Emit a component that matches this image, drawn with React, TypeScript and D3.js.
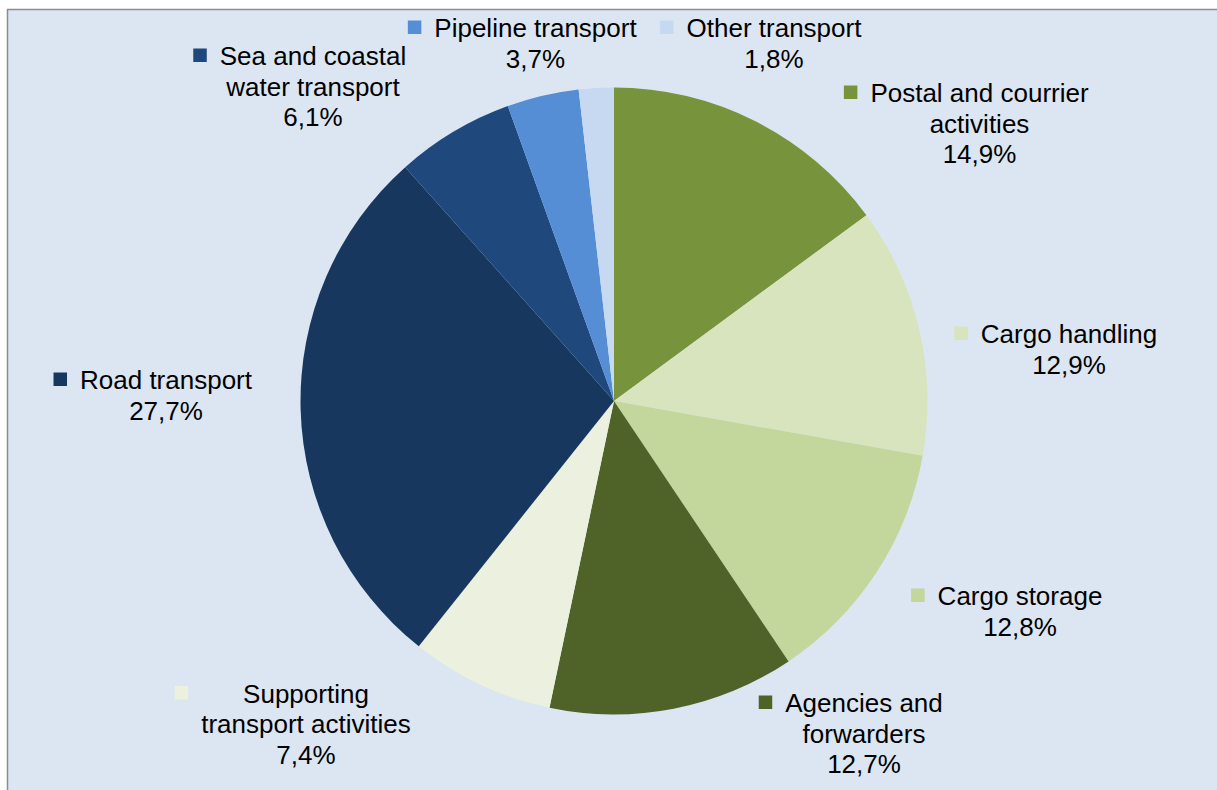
import React, { useEffect, useRef } from "react";
import * as d3 from "d3";

// ---- data ----
const categories = [
  "Postal and courrier activities",
  "Cargo handling",
  "Cargo storage",
  "Agencies and forwarders",
  "Supporting transport activities",
  "Road transport",
  "Sea and coastal water transport",
  "Pipeline transport",
  "Other transport",
];
const shares = [14.9, 12.9, 12.8, 12.7, 7.4, 27.7, 6.1, 3.7, 1.8];
const labelLines = [
  ["Postal and courrier", "activities"],
  ["Cargo handling"],
  ["Cargo storage"],
  ["Agencies and", "forwarders"],
  ["Supporting", "transport activities"],
  ["Road transport"],
  ["Sea and coastal", "water transport"],
  ["Pipeline transport"],
  ["Other transport"],
];

// ---- styles / layout ----
const colors = [
  "#77933c",
  "#d7e4bd",
  "#c3d69b",
  "#4f6228",
  "#ebf1de",
  "#17375e",
  "#1f497d",
  "#558ed5",
  "#c6d9f1",
];
// label anchor: center x and first baseline y
const labelLayout = [
  { cx: 979.5, y: 102 },
  { cx: 1069, y: 343 },
  { cx: 1020, y: 605 },
  { cx: 864, y: 712 },
  { cx: 306, y: 702.5 },
  { cx: 166, y: 389 },
  { cx: 313, y: 65 },
  { cx: 535.5, y: 37 },
  { cx: 774, y: 37 },
];

const W = 1217;
const H = 790;
const CX = 614;
const CY = 401;
const R = 313.5;
const FONT = 26;
const LINE = 30.7;

export default function App() {
  const ref = useRef<SVGSVGElement>(null);

  useEffect(() => {
    const svg = d3.select(ref.current);
    svg.selectAll("*").remove();

    svg
      .append("rect")
      .attr("x", 7.5)
      .attr("y", 9.5)
      .attr("width", W)
      .attr("height", H)
      .attr("fill", "#dce6f2")
      .attr("stroke", "#8c8c8c")
      .attr("stroke-width", 1.5);

    const data = categories.map((c, i) => ({ name: c, value: shares[i], i }));
    const pie = d3
      .pie<any>()
      .sort(null)
      .value((d: any) => d.value);
    const arc = d3.arc<any>().innerRadius(0).outerRadius(R);

    const g = svg.append("g").attr("transform", `translate(${CX},${CY})`);
    g.selectAll("path")
      .data(pie(data))
      .join("path")
      .attr("d", arc as any)
      .attr("fill", (d: any) => colors[d.data.i]);

    const fmt = (v: number) => d3.format(".1f")(v).replace(".", ",") + "%";

    const labels = svg.append("g").attr("font-family", "'Liberation Sans', Arial, sans-serif").attr("font-size", FONT).attr("fill", "#000");

    data.forEach((d, i) => {
      const lay = labelLayout[i];
      const lines = [...labelLines[i], fmt(d.value)];
      const lg = labels.append("g");
      let maxW = 0;
      lines.forEach((ln, k) => {
        const t = lg
          .append("text")
          .attr("x", lay.cx)
          .attr("y", lay.y + k * LINE)
          .attr("text-anchor", "middle")
          .text(ln);
        const w = (t.node() as SVGTextElement).getComputedTextLength();
        if (k < lines.length - 1 || lines.length === 1) maxW = Math.max(maxW, w);
        else maxW = Math.max(maxW, w);
      });
      const left = lay.cx - maxW / 2;
      lg.append("rect")
        .attr("x", left - 26.5)
        .attr("y", lay.y - 16.5)
        .attr("width", 13.5)
        .attr("height", 13.5)
        .attr("fill", colors[i]);
    });
  }, []);

  return (
    <svg
      ref={ref}
      width={W}
      height={H}
      style={{ position: "absolute", left: 0, top: 0, display: "block" }}
    />
  );
}
